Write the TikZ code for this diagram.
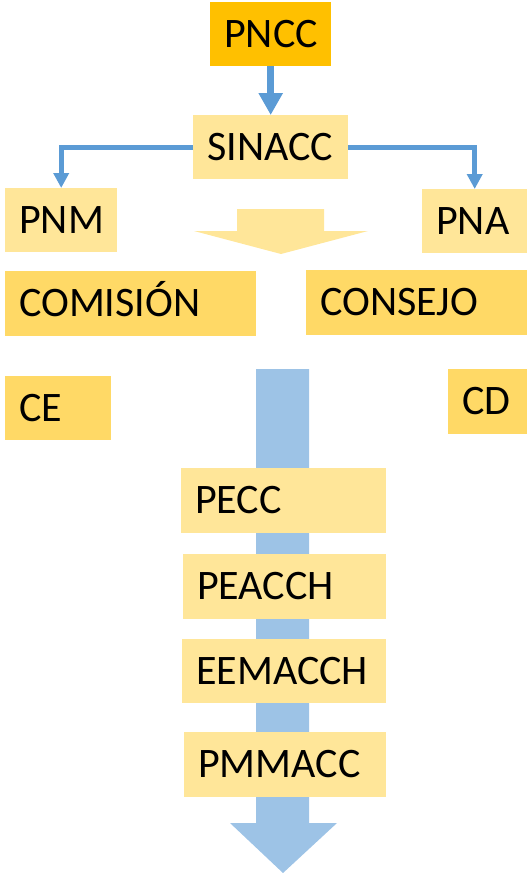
\documentclass[tikz,border=0pt]{standalone}
\usepackage{fontspec}
\setmainfont{Carlito}
\usetikzlibrary{arrows.meta}
\definecolor{cOrange}{HTML}{FFC000}
\definecolor{cLight}{HTML}{FFE699}
\definecolor{cMid}{HTML}{FFD966}
\definecolor{cBlue}{HTML}{5B9BD5}
\definecolor{cPale}{HTML}{9DC3E6}
\tikzset{
  bx/.style={anchor=north west, inner xsep=14pt, inner ysep=0pt, align=left,
    text height=26.5pt, text depth=0pt, font=\fontsize{42}{50}\selectfont},
  conn/.style={draw=cBlue, line width=5pt, -{Triangle[width=15pt,length=15pt]}},
  mainconn/.style={draw=cBlue, line width=6.7pt, -{Triangle[width=23pt,length=22pt]}},
}
\begin{document}
\begin{tikzpicture}[x=1pt,y=1pt]
\useasboundingbox (0,0) rectangle (527,-873);
% big blue arrow
\fill[cPale] (256,-369) -- (309,-369) -- (309,-823) -- (337,-823) -- (283,-873) -- (230,-823) -- (256,-823) -- cycle;
% yellow block arrow
\fill[cLight] (237,-209) -- (324,-209) -- (324,-231) -- (368,-231) -- (281,-254) -- (194,-231) -- (237,-231) -- cycle;
% boxes
\node[bx, fill=cOrange, text width=121pt-28pt, minimum height=64pt] (pncc) at (210,-2) {PNCC};
\node[bx, fill=cLight, text width=155pt-28pt, minimum height=64pt] (sinacc) at (193,-115) {SINACC};
\node[bx, fill=cLight, text width=112pt-28pt, minimum height=64pt] (pnm) at (5,-188) {PNM};
\node[bx, fill=cLight, text width=105pt-28pt, minimum height=64pt] (pna) at (422,-189) {PNA};
\node[bx, fill=cMid, text width=251pt-28pt, minimum height=65pt] (comision) at (5,-271) {COMISIÓN};
\node[bx, fill=cMid, text width=221pt-28pt, minimum height=65pt] (consejo) at (306,-270) {CONSEJO};
\node[bx, fill=cMid, text width=106pt-28pt, minimum height=64pt] (ce) at (5,-376) {CE};
\node[bx, fill=cMid, text width=79pt-28pt, minimum height=65pt] (cd) at (448,-369) {CD};
\node[bx, fill=cLight, text width=205pt-28pt, minimum height=65pt] (pecc) at (181,-468) {PECC};
\node[bx, fill=cLight, text width=203pt-28pt, minimum height=65pt] (peacch) at (183,-554) {PEACCH};
\node[bx, fill=cLight, text width=204pt-28pt, minimum height=64pt] (eemacch) at (182,-639) {EEMACCH};
\node[bx, fill=cLight, text width=202pt-28pt, minimum height=65pt] (pmmacc) at (184,-732) {PMMACC};
% connectors
\draw[mainconn] (pncc.south) -- (sinacc.north);
\draw[conn] (sinacc.west) -| (pnm.north);
\draw[conn] (sinacc.east) -| (pna.north);
\end{tikzpicture}
\end{document}
